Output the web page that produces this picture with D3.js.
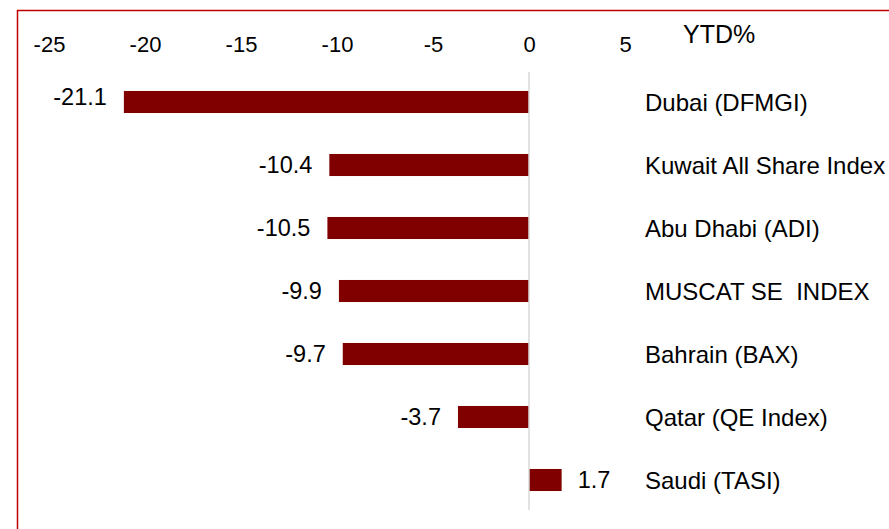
<!DOCTYPE html>
<html lang="en">
<head>
  <meta charset="UTF-8">
  <title>YTD%</title>
  <style>
    body { margin: 0; background: #fff; }
    text { font-family: 'Liberation Sans', Arial, sans-serif; fill: #000; }
    .tick text { font-size: 22px; }
    .cat { font-size: 24px; white-space: pre; }
    .val { font-size: 23.5px; }
    .title { font-size: 25px; }
  </style>
  <script src="https://cdn.jsdelivr.net/npm/d3@7"></script>
</head>
<body>
<div class="container"></div>
<script>
  var categories = ['Dubai (DFMGI)', 'Kuwait All Share Index', 'Abu Dhabi (ADI)',
                    'MUSCAT SE  INDEX', 'Bahrain (BAX)', 'Qatar (QE Index)', 'Saudi (TASI)'];
  var values = [-21.1, -10.4, -10.5, -9.9, -9.7, -3.7, 1.7];
  var tickValues = [-25, -20, -15, -10, -5, 0, 5];

  var svgWidth = 889, svgHeight = 529;
  var svg = d3.select('.container').append('svg')
              .attr('width', svgWidth)
              .attr('height', svgHeight);

  // frame
  svg.append('rect')
     .attr('x', 17.5).attr('y', 10.5)
     .attr('width', 900).attr('height', 600)
     .attr('fill', 'none')
     .attr('stroke', '#c00000')
     .attr('stroke-width', 1.5);

  var x = d3.scaleLinear()
            .domain([-25, 5])
            .range([529 - 25 * 19.2, 529 + 5 * 19.2]);
  var y = d3.scaleBand()
            .domain(categories)
            .range([70.5, 511.5])
            .paddingInner(0.65)
            .paddingOuter(0.325);

  var xAxis = d3.axisTop(x).tickValues(tickValues)
                .tickFormat(d => String(d))
                .tickSize(0).tickPadding(0);
  var gx = svg.append('g')
     .attr('transform', 'translate(0,52)')
     .call(xAxis);
  gx.select('.domain').remove();
  gx.selectAll('text').attr('dy', 0).attr('font-family', null).attr('font-size', null);

  svg.append('text')
     .attr('class', 'title')
     .attr('x', 683).attr('y', 42.5)
     .text('YTD%');

  // bars
  svg.append('g').selectAll('rect')
     .data(values)
     .enter().append('rect')
     .attr('x', d => x(Math.min(0, d)))
     .attr('y', (d, i) => y(categories[i]))
     .attr('width', d => Math.abs(x(d) - x(0)))
     .attr('height', y.bandwidth())
     .attr('fill', '#800000');

  // zero line
  svg.append('line')
     .attr('x1', x(0)).attr('x2', x(0))
     .attr('y1', 72).attr('y2', 510)
     .attr('stroke', '#d9d9d9')
     .attr('stroke-width', 1.5);

  // value labels (first one sits a little higher in the original)
  svg.append('g').selectAll('text')
     .data(values)
     .enter().append('text')
     .attr('class', 'val')
     .attr('x', d => d < 0 ? x(d) - 17 : x(d) + 16)
     .attr('y', (d, i) => y(categories[i]) + y.bandwidth() / 2 + (i === 0 ? 3 : 8))
     .attr('text-anchor', d => d < 0 ? 'end' : 'start')
     .text(d => d.toFixed(1));

  // category labels
  svg.append('g').selectAll('text')
     .data(categories)
     .enter().append('text')
     .attr('class', 'cat')
     .attr('x', 645)
     .attr('y', d => y(d) + y.bandwidth() / 2 + 9)
     .text(d => d);
</script>
</body>
</html>
